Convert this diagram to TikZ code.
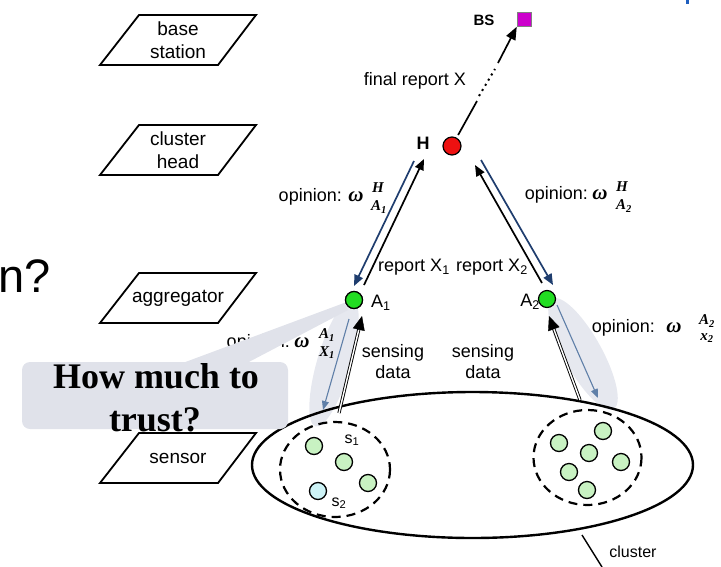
\documentclass[tikz,border=0pt]{standalone}
\usepackage{fontspec}
\setmainfont{Liberation Sans}
\newfontfamily\serifb{Liberation Serif}
\usetikzlibrary{arrows.meta,shapes.geometric,calc}
\definecolor{navy}{HTML}{1F3D6E}
\definecolor{steel}{HTML}{5F7FA8}
\definecolor{hlc}{HTML}{E6E8EF}
\definecolor{callc}{HTML}{E0E2EA}
\definecolor{agreen}{HTML}{22DD22}
\definecolor{hred}{HTML}{EE1111}
\definecolor{sgreen}{HTML}{C8F2C2}
\definecolor{sblue}{HTML}{CDF3F6}
\definecolor{bsmag}{HTML}{CC00CC}
\definecolor{topblue}{HTML}{1F5FBF}
\tikzset{
  parab/.style={draw, line width=1.8pt, line join=miter},
  layertxt/.style={font=\fontsize{19}{23}\selectfont, align=center, inner sep=0pt},
  lab/.style={font=\fontsize{18}{21}\selectfont, inner sep=0pt},
  om/.style={font=\serifb\bfseries\itshape\fontsize{21}{21}\selectfont, inner sep=0pt},
  scr/.style={font=\serifb\bfseries\itshape\fontsize{15}{15}\selectfont, inner sep=0pt},
  navyarr/.style={draw=navy, line width=1.7pt, -{Triangle[length=11pt,width=9pt]}},
  blkarr/.style={draw=black, line width=1.7pt, -{Triangle[length=11pt,width=9pt]}},
  steelarr/.style={draw=steel, line width=1.1pt, -{Triangle[length=9pt,width=7pt]}},
  dbl/.style={draw=black, line width=0.9pt, double=white, double distance=1.4pt},
  bighead/.style={draw=black, line width=0.4pt, -{Triangle[length=14pt,width=12pt]}},
  agg/.style={circle, draw=black, line width=1.2pt, fill=agreen, minimum size=17pt, inner sep=0pt},
  sens/.style={circle, draw=black, line width=1.3pt, fill=sgreen, minimum size=17pt, inner sep=0pt},
  grp/.style={draw=black, line width=2.2pt, dash pattern=on 9pt off 6pt},
}
\newcommand\layerbox[3]{%
  \draw[parab] (139,#2) -- (256,#2) -- (218,#2+50) -- (100,#2+50) -- cycle;
  \node[layertxt] (#1) at (178,#2+25) {#3};}
\begin{document}
\begin{tikzpicture}[x=1pt,y=-1pt]
\useasboundingbox (0,0) rectangle (721,566);

% left-hand layer labels
\layerbox{lbs}{15}{base\\station}
\layerbox{lch}{125}{cluster\\head}
\layerbox{lag}{273}{aggregator}
\layerbox{lse}{433}{sensor}

% slide fragments
\node[font=\fontsize{47}{50}\selectfont, anchor=base west, inner sep=0pt] (frag) at (-2,292) {n?};
\fill[topblue] (686,0) rectangle (689,4);

% highlight ellipses
\fill[hlc, rotate around={73.7:(334,363)}] (334,363) ellipse [x radius=66, y radius=17];
\fill[hlc, rotate around={-61:(583,354)}] (583,354) ellipse [x radius=63, y radius=19];

% cluster ellipse and groups
\node[ellipse, draw, line width=2.4pt, minimum width=441pt, minimum height=146pt, inner sep=0pt] (cl) at (472.5,465) {};
\draw[grp] (335,469.5) ellipse [x radius=55, y radius=47.5];
\draw[grp] (587.5,457.5) ellipse [x radius=54, y radius=47.5];

% sensors
\node[sens] (sa) at (314,446) {};
\node[sens] (s1) at (344,462) {};
\node[sens] (sb) at (368,483) {};
\node[sens, fill=sblue] (s2) at (318,491) {};
\node[sens] (ra) at (559,443) {};
\node[sens] (rb) at (603,431) {};
\node[sens] (rc) at (589,453) {};
\node[sens] (rd) at (621,462) {};
\node[sens] (re) at (569,472) {};
\node[sens] (rf) at (587,490) {};
\node[font=\fontsize{16}{16}\selectfont, inner sep=0pt] (s1l) at (352,440) {s\textsubscript{1}};
\node[font=\fontsize{16}{16}\selectfont, inner sep=0pt] (s2l) at (339,503) {s\textsubscript{2}};

% cluster pointer
\coordinate (cp1) at (582,535);
\coordinate (cp2) at (602,567);
\draw[line width=1.4pt] (cp1) -- (cp2);
\node[font=\fontsize{16}{16}\selectfont, inner sep=0pt] (clul) at (633,552) {cluster};

% main nodes
\node[circle, draw=black, line width=1.2pt, fill=hred, minimum size=18pt, inner sep=0pt] (H) at (452,146) {};
\node[agg] (A1) at (354,300) {};
\node[agg] (A2) at (547,299) {};
\node[rectangle, draw=gray, line width=0.5pt, fill=bsmag, minimum size=14pt, inner sep=0pt] (BS) at (524,19.5) {};

\node[font=\bfseries\fontsize{15}{15}\selectfont, inner sep=0pt] (BSl) at (484,20) {BS};
\node[font=\bfseries\fontsize{18}{18}\selectfont, inner sep=0pt] (Hl) at (423,143) {H};
\node[lab, anchor=west] (A1l) at (371,303) {A\textsubscript{1}};
\node[lab, anchor=east] (A2l) at (540,302) {A\textsubscript{2}};

% H -> BS
\coordinate (f2) at (477,101);
\coordinate (f3) at (479,96);
\coordinate (f4) at (495,69);
\coordinate (f5) at (498,63);
\draw[line width=1.7pt, shorten <=3pt] (H) -- (f2);
\draw[line width=2pt, dash pattern=on 2pt off 4pt] (f3) -- (f4);
\draw[line width=1.7pt, -{Triangle[length=13pt,width=10pt]}] (f5) -- (BS.south west);
\node[lab] (frl) at (415,81) {final report X};

% H <-> A1
\coordinate (l1s) at (414,161); \coordinate (l1e) at (354,286);
\coordinate (k1s) at (364,285); \coordinate (k1e) at (424,159);
\draw[navyarr] (l1s) -- (l1e);
\draw[blkarr] (k1s) -- (k1e);
% H <-> A2
\coordinate (k2s) at (542,283); \coordinate (k2e) at (475,165);
\coordinate (l2s) at (481,160); \coordinate (l2e) at (553,285);
\draw[blkarr] (k2s) -- (k2e);
\draw[navyarr] (l2s) -- (l2e);

\node[lab] (rx1) at (414,267) {report X\textsubscript{1}};
\node[lab] (rx2) at (492,267) {report X\textsubscript{2}};

% opinion labels (upper)
\node[lab, anchor=east] (op1) at (342,197) {opinion:};
\node[om] (w1) at (356,197) {ω};
\node[scr] (w1u) at (378,188) {H};
\node[scr] (w1d) at (379,207) {A\textsubscript{1}};
\node[lab, anchor=east] (op2) at (588,195) {opinion:};
\node[om] (w2) at (600,195) {ω};
\node[scr] (w2u) at (622,187) {H};
\node[scr] (w2d) at (624,206) {A\textsubscript{2}};

% sensing data arrows
\coordinate (d1s) at (339,413); \coordinate (d1e) at (362,316);
\draw[dbl] (d1s) -- ($(d1e)!12pt!(d1s)$);
\draw[bighead] ($(d1e)!13pt!(d1s)$) -- (d1e);
\coordinate (d2s) at (580,400); \coordinate (d2e) at (549,316);
\draw[dbl] (d2s) -- ($(d2e)!12pt!(d2s)$);
\draw[bighead] ($(d2e)!13pt!(d2s)$) -- (d2e);
\coordinate (b1s) at (349,319); \coordinate (b1e) at (323,410);
\draw[steelarr] (b1s) -- (b1e);
\coordinate (b2s) at (557,305); \coordinate (b2e) at (598,398);
\draw[steelarr] (b2s) -- (b2e);

\node[lab, align=center] (sd1) at (393,362) {sensing\\data};
\node[lab, align=center] (sd2) at (483,362) {sensing\\data};

% opinion labels (lower)
\node[lab, anchor=east] (op4) at (655,328) {opinion:};
\node[om] (w4) at (674,328) {ω};
\node[scr] (w4u) at (707,321) {A\textsubscript{2}};
\node[scr] (w4d) at (707,338) {x\textsubscript{2}};
\node[lab, anchor=east] (op3) at (290,343) {opinion:};
\node[om] (w3) at (302,343) {ω};
\node[scr] (w3u) at (327,335) {A\textsubscript{1}};
\node[scr] (w3d) at (327,353) {X\textsubscript{1}};

% callout
\fill[callc] (180,364) -- (344,303) -- (348,310) -- (245,364) -- cycle;
\fill[callc, rounded corners=8pt] (22,362) rectangle (288,429);
\node[agg] (A1b) at (354,300) {};
\node[font=\serifb\bfseries\fontsize{36}{43}\selectfont, anchor=base, inner sep=0pt] (q1) at (156,388) {How much to};
\node[font=\serifb\bfseries\fontsize{36}{43}\selectfont, anchor=base, inner sep=0pt] (q2) at (155,431) {trust?};
\end{tikzpicture}
\end{document}
